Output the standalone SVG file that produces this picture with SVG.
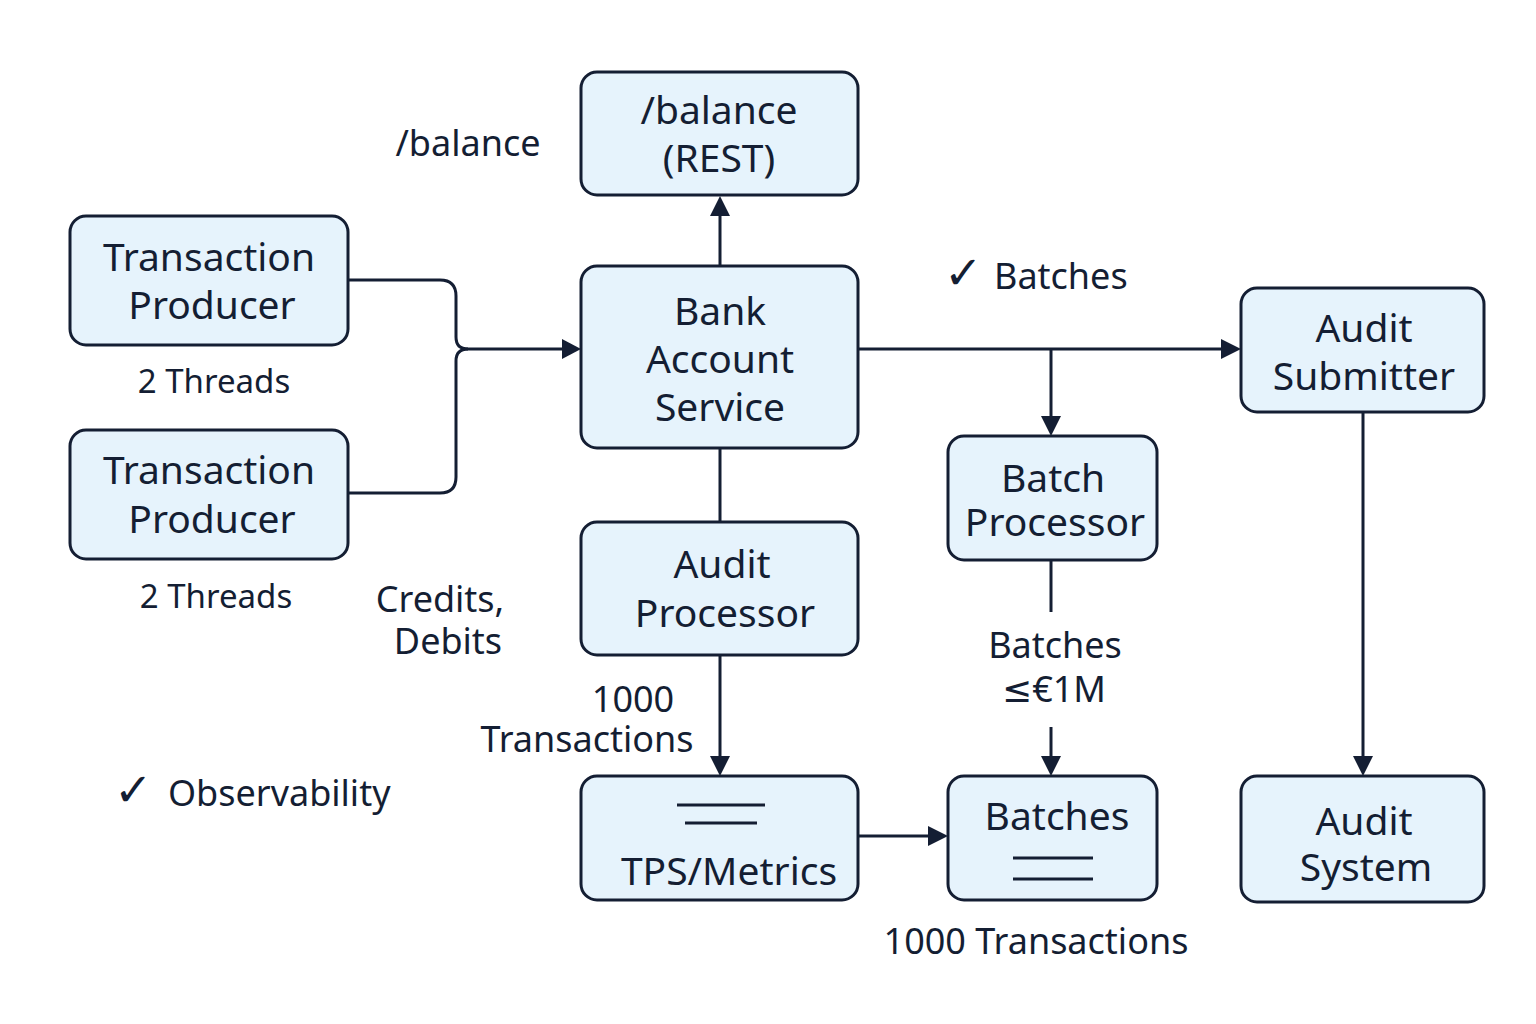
<svg xmlns="http://www.w3.org/2000/svg" width="1536" height="1024" viewBox="0 0 1536 1024">
<style>
.node rect{fill:#e6f3fc;stroke:#141e33;stroke-width:3}
text{font-family:"Noto Sans","DejaVu Sans",sans-serif;fill:#141e33}
.nl{font-size:39px;text-anchor:middle}
.lb{font-size:36px}
.th{font-size:33px;text-anchor:middle}
.ck{font-size:46px}
.c{fill:none;stroke:#141e33;stroke-width:3}
.bar{stroke:#141e33;stroke-width:3}
.ah{fill:#141e33}
</style>
<rect width="1536" height="1024" fill="#ffffff"/>
<g id="connectors">
<path class="c" d="M348,280 H440 Q456,280 456,296 V337 Q456,349 468,349 H562"/>
<path class="c" d="M348,493 H440 Q456,493 456,477 V361 Q456,349 468,349"/>
<path class="ah" d="M562,339 L581,349 L562,359 z"/>
<path class="c" d="M720,266 V214"/>
<path class="ah" d="M710,216 L720,196 L730,216 z"/>
<path class="c" d="M720,448 V522"/>
<path class="c" d="M720,655 V758"/>
<path class="ah" d="M710,756 L720,776 L730,756 z"/>
<path class="c" d="M858,349 H1222"/>
<path class="ah" d="M1221,339 L1241,349 L1221,359 z"/>
<path class="c" d="M1051,349 V418"/>
<path class="ah" d="M1041,416 L1051,436 L1061,416 z"/>
<path class="c" d="M1051,560 V612"/>
<path class="c" d="M1051,727 V758"/>
<path class="ah" d="M1041,756 L1051,776 L1061,756 z"/>
<path class="c" d="M858,836 H930"/>
<path class="ah" d="M928,826 L948,836 L928,846 z"/>
<path class="c" d="M1363,412 V758"/>
<path class="ah" d="M1353,756 L1363,776 L1373,756 z"/>
</g>
<g id="balance-rest" class="node">
<rect x="581" y="72" width="277" height="123" rx="16"/>
<text class="nl" x="719" y="124">/balance</text>
<text class="nl" x="719" y="172">(REST)</text>
</g>
<g id="producer-1" class="node">
<rect x="70" y="216" width="278" height="129" rx="16"/>
<text class="nl" x="209" y="271">Transaction</text>
<text class="nl" x="212" y="319">Producer</text>
</g>
<g id="producer-2" class="node">
<rect x="70" y="430" width="278" height="129" rx="16"/>
<text class="nl" x="209" y="484">Transaction</text>
<text class="nl" x="212" y="533">Producer</text>
</g>
<g id="bank-account-service" class="node">
<rect x="581" y="266" width="277" height="182" rx="16"/>
<text class="nl" x="720" y="325">Bank</text>
<text class="nl" x="720" y="373">Account</text>
<text class="nl" x="720" y="421">Service</text>
</g>
<g id="audit-processor" class="node">
<rect x="581" y="522" width="277" height="133" rx="16"/>
<text class="nl" x="722" y="578">Audit</text>
<text class="nl" x="725" y="627">Processor</text>
</g>
<g id="tps-metrics" class="node">
<rect x="581" y="776" width="277" height="124" rx="16"/>
<line class="bar" x1="677" y1="805" x2="765" y2="805"/>
<line class="bar" x1="685" y1="823" x2="757" y2="823"/>
<text class="nl" x="729" y="885">TPS/Metrics</text>
</g>
<g id="batch-processor" class="node">
<rect x="948" y="436" width="209" height="124" rx="16"/>
<text class="nl" x="1053" y="492">Batch</text>
<text class="nl" x="1055" y="536">Processor</text>
</g>
<g id="batches" class="node">
<rect x="948" y="776" width="209" height="124" rx="16"/>
<text class="nl" x="1057" y="830">Batches</text>
<line class="bar" x1="1013" y1="858" x2="1093" y2="858"/>
<line class="bar" x1="1013" y1="879" x2="1093" y2="879"/>
</g>
<g id="audit-submitter" class="node">
<rect x="1241" y="288" width="243" height="124" rx="16"/>
<text class="nl" x="1364" y="342">Audit</text>
<text class="nl" x="1364" y="390">Submitter</text>
</g>
<g id="audit-system" class="node">
<rect x="1241" y="776" width="243" height="126" rx="16"/>
<text class="nl" x="1364" y="835">Audit</text>
<text class="nl" x="1366" y="881">System</text>
</g>
<g id="labels">
<text class="th" x="214" y="393">2 Threads</text>
<text class="th" x="216" y="608">2 Threads</text>
<text class="lb" x="468" y="156" text-anchor="middle">/balance</text>
<text class="lb" x="944" y="289"><tspan class="ck">✓</tspan><tspan x="994">Batches</tspan></text>
<text class="lb" x="440" y="612" text-anchor="middle">Credits,</text>
<text class="lb" x="448" y="654" text-anchor="middle">Debits</text>
<text class="lb" x="633" y="712" text-anchor="middle">1000</text>
<text class="lb" x="587" y="752" text-anchor="middle">Transactions</text>
<text class="lb" x="1055" y="658" text-anchor="middle">Batches</text>
<text class="lb" x="1054" y="702" text-anchor="middle">≤€1M</text>
<text class="lb" x="114" y="806"><tspan class="ck">✓</tspan><tspan x="168">Observability</tspan></text>
<text class="lb" x="1036" y="954" text-anchor="middle">1000 Transactions</text>
</g>
</svg>
